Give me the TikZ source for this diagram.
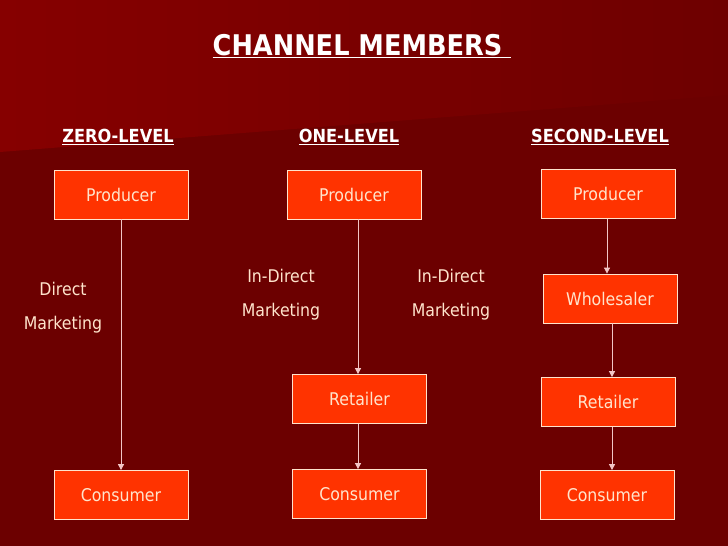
\documentclass[tikz,border=0pt]{standalone}
\usepackage{fontspec}
\setmainfont{DejaVu Sans Condensed}
\usepackage{tikz}
\usepackage{xcolor}
\usetikzlibrary{arrows.meta,positioning}
\definecolor{bgdark}{HTML}{6C0000}
\definecolor{bgtopl}{HTML}{860000}
\definecolor{bgtopr}{HTML}{6E0000}
\definecolor{boxfill}{HTML}{FF3300}
\definecolor{boxtext}{HTML}{FFE4CC}
\definecolor{linecol}{HTML}{F2C6C6}

\begin{document}
\begin{tikzpicture}[
  x=1pt, y=-1pt,
  member/.style={draw=boxtext, line width=0.8pt, fill=boxfill, text=boxtext,
                 minimum width=134pt, minimum height=49pt, inner sep=0pt,
                 font=\fontsize{17.5}{20}\selectfont},
  level/.style={text=white, font=\fontsize{18}{21}\selectfont\bfseries},
  note/.style={text=boxtext, font=\fontsize{17.5}{20}\selectfont, align=center},
  arr/.style={-{Triangle[length=6pt,width=6pt]}, draw=linecol, line width=0.8pt}
]
% background
\useasboundingbox (0,0) rectangle (728,546);
\fill[bgdark] (0,0) rectangle (728,546);
\shade[left color=bgtopl, right color=bgtopr] (0,0) -- (728,0) -- (728,95) -- (0,152) -- cycle;

% titles
\node[text=white, font=\fontsize{28.5}{32}\selectfont\bfseries] (title) at (362,46) {\underline{CHANNEL MEMBERS\ }};
\node[level] (zeroH) at (118,137) {\underline{ZERO-LEVEL}};
\node[level] (oneH) at (349,137) {\underline{ONE-LEVEL}};
\node[level] (secH) at (600,137) {\underline{SECOND-LEVEL}};

% zero level
\node[member] (zP) at (121,194.5) {Producer};
\node[member] (zC) at (121,495) {Consumer};
\draw[arr] (zP) -- (zC);
\node[note] (zN) at (63,307.5) {Direct\\[14pt]Marketing};

% one level
\node[member] (oP) at (354,194.5) {Producer};
\node[member] (oR) at (359.5,399) {Retailer};
\node[member] (oC) at (359.5,494) {Consumer};
\draw[arr] (oP.south -| 358,0) -- (oR.north -| 358,0);
\draw[arr] (oR.south -| 358,0) -- (oC.north -| 358,0);
\node[note] (oN1) at (281,294.5) {In-Direct\\[14pt]Marketing};
\node[note] (oN2) at (451,294.5) {In-Direct\\[14pt]Marketing};

% second level
\node[member] (sP) at (608,194) {Producer};
\node[member] (sW) at (610,298.5) {Wholesaler};
\node[member] (sR) at (608,402) {Retailer};
\node[member] (sC) at (607,495) {Consumer};
\draw[arr] (sP.south -| 607,0) -- (sW.north -| 607,0);
\draw[arr] (sW.south -| 612,0) -- (sR.north -| 612,0);
\draw[arr] (sR.south -| 612,0) -- (sC.north -| 612,0);
\end{tikzpicture}
\end{document}
